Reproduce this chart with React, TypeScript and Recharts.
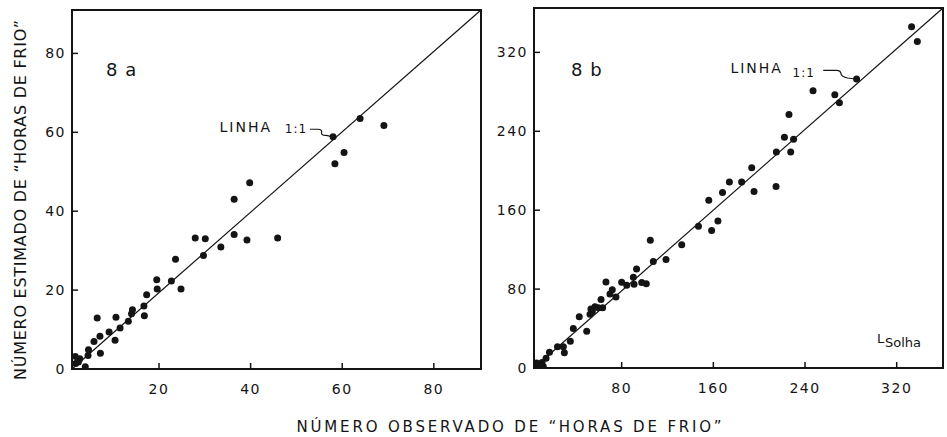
import { ReferenceArea, ReferenceDot, ReferenceLine, Scatter, ScatterChart, XAxis, YAxis } from 'recharts'

// 8a: observado (x) x estimado (y) de "horas de frio"
const obsA = [63.9, 69.1, 58, 58.4, 60.4, 39.8, 36.4, 36.4, 39.2, 45.9, 27.9, 30.1, 33.5, 29.7, 23.6, 22.7, 24.8, 19.5, 19.6, 17.3, 16.7, 16.8, 14.2, 14, 13.3, 11.5, 10.6, 10.4, 9.1, 6.5, 7.1, 5.8, 7.2, 4.6, 4.5, 3.9, 2.7, 1.7, 1.8, 2.4]
const estA = [63.5, 61.7, 58.9, 52, 54.9, 47.2, 43, 34.1, 32.7, 33.2, 33.2, 33, 30.9, 28.8, 27.8, 22.3, 20.3, 22.6, 20.3, 18.8, 16, 13.5, 15, 14, 12.1, 10.4, 13.1, 7.3, 9.4, 12.9, 8.3, 7, 4, 4.9, 3.4, 0.6, 2.6, 3.2, 1.4, 1.8]

// 8b
const obsB = [333, 338, 285, 247, 266, 270, 226, 222, 230, 215, 227.5, 193.5, 174, 184.7, 195.5, 214.7, 168, 156, 164, 158.5, 147, 132.4, 118.7, 105, 107.6, 93, 101.5, 97.5, 90.2, 90.8, 84.4, 80, 66.3, 71.8, 69.8, 75, 62, 56.7, 53.2, 54.4, 59.6, 63.4, 52.4, 43, 37.8, 49.5, 35.2, 29.1, 30, 24, 17, 14, 10.5, 7.3, 5.8, 8.7, 11.6]
const estB = [346, 331, 293, 281, 277, 269, 257, 234, 232, 219, 219, 203, 188.5, 188.5, 179, 184, 178, 170, 149, 139.5, 143.6, 125, 110, 129.4, 108, 100.3, 85.5, 86.8, 92, 85, 84, 87, 87.2, 79.4, 75, 72, 69.5, 62, 59.8, 57.4, 61, 61, 54.5, 52, 40, 37.2, 27, 21.5, 15.5, 21.5, 16, 10, 5.5, 2.5, 5, 0.5, 1.5]

const xTicksA = [20, 40, 60, 80]
const yTicksA = [0, 20, 40, 60, 80]
const xTicksB = [80, 160, 240, 320]
const yTicksB = [0, 80, 160, 240, 320]

const xDomainA: [number, number] = [1, 90.3]
const yDomainA: [number, number] = [0, 91]
const xDomainB: [number, number] = [3.5, 360.4]
const yDomainB: [number, number] = [0, 365]

// ponto para onde aponta a seta "LINHA 1:1"
const pointerA = { x: 58, y: 58.9 }
const pointerB = { x: 285, y: 293 }

const INK = '#141414'
const FONT = '"DejaVu Sans", sans-serif'
const X_GAP = 15
const Y_GAP = 6
const TICK = 6

const zip = (xs: number[], ys: number[]) => xs.map((x, i) => ({ x, y: ys[i] }))

const dataA = zip(obsA, estA)
const dataB = zip(obsB, estB)

const Dot = (p: any) => <circle cx={p.cx} cy={p.cy} r={3.5} fill={INK} />

// rótulos com marca voltada para dentro do quadro
const XTick = (p: any) => (
  <g>
    <line x1={p.x} x2={p.x} y1={p.y - X_GAP} y2={p.y - X_GAP - TICK} stroke={INK} strokeWidth={1.5} />
    <text x={p.x} y={p.y} dy="0.71em" textAnchor="middle" fontSize={14} fontFamily={FONT} letterSpacing={1.5} fill={INK}>
      {p.payload.value}
    </text>
  </g>
)
const YTick = (p: any) => (
  <g>
    <line x1={p.x + Y_GAP} x2={p.x + Y_GAP + TICK} y1={p.y} y2={p.y} stroke={INK} strokeWidth={1.5} />
    <text x={p.x} y={p.y} dy="0.355em" textAnchor="end" fontSize={14} fontFamily={FONT} letterSpacing={1.5} fill={INK}>
      {p.payload.value}
    </text>
  </g>
)

function leader(o: { linha: number; linhaDy: number; one: number; oneDy: number; path: string }) {
  return (p: any) => (
    <g transform={`translate(${p.cx},${p.cy})`}>
      <text x={o.linha} y={o.linhaDy} textAnchor="end" fontSize={14} fontFamily={FONT} letterSpacing={2} fill={INK}>
        LINHA
      </text>
      <text x={o.one} y={o.oneDy} textAnchor="end" fontSize={12} fontFamily={FONT} letterSpacing={1} fill={INK}>
        1:1
      </text>
      <path d={o.path} fill="none" stroke={INK} strokeWidth={1.2} />
    </g>
  )
}

const leaderA = leader({
  linha: -61,
  linhaDy: -5,
  one: -26,
  oneDy: -4,
  path: 'M-23 -7.4 H-15 Q-11 -7.4 -11.5 -4 Q-12 -1 -7 -1.2 L-1 0',
})
const leaderB = leader({
  linha: -73.7,
  linhaDy: -6,
  one: -41.7,
  oneDy: -2.5,
  path: 'M-33.4 -8.6 H-20 Q-16 -8.6 -15.5 -5 Q-15 -2.5 -9 -1 L-1.5 0',
})

function Panel(props: {
  data: { x: number; y: number }[]
  width: number
  margin: { top: number; right: number; bottom: number; left: number }
  yWidth: number
  xDomain: [number, number]
  yDomain: [number, number]
  xTicks: number[]
  yTicks: number[]
  pointer: { x: number; y: number }
  shape: (p: any) => any
}) {
  const { xDomain, yDomain } = props
  return (
    <ScatterChart width={props.width} height={437} margin={props.margin}>
      <XAxis
        type="number"
        dataKey="x"
        domain={xDomain}
        allowDataOverflow
        ticks={props.xTicks}
        height={40}
        tickSize={0}
        tickMargin={X_GAP}
        axisLine={false}
        tickLine={false}
        tick={XTick}
      />
      <YAxis
        type="number"
        dataKey="y"
        domain={yDomain}
        allowDataOverflow
        ticks={props.yTicks}
        width={props.yWidth}
        tickSize={0}
        tickMargin={Y_GAP}
        axisLine={false}
        tickLine={false}
        tick={YTick}
      />
      <ReferenceArea
        x1={xDomain[0]}
        x2={xDomain[1]}
        y1={yDomain[0]}
        y2={yDomain[1]}
        fill="none"
        fillOpacity={0}
        stroke={INK}
        strokeWidth={2}
        ifOverflow="visible"
      />
      <ReferenceLine
        segment={[
          { x: xDomain[0], y: yDomain[0] },
          { x: xDomain[1], y: yDomain[1] },
        ]}
        stroke={INK}
        strokeWidth={1.2}
        ifOverflow="visible"
      />
      <Scatter data={props.data} shape={Dot} isAnimationActive={false} />
      <ReferenceDot x={props.pointer.x} y={props.pointer.y} r={0} shape={props.shape} ifOverflow="visible" />
    </ScatterChart>
  )
}

export default function App() {
  return (
    <div style={{ position: 'absolute', left: 0, top: 0, width: 947, height: 437, background: '#fff', overflow: 'hidden' }}>
      <div style={{ position: 'absolute', left: 0, top: 0 }}>
        <Panel
          data={dataA}
          width={500}
          margin={{ top: 10, right: 19, bottom: 28, left: 12 }}
          yWidth={60}
          xDomain={xDomainA}
          yDomain={yDomainA}
          xTicks={xTicksA}
          yTicks={yTicksA}
          pointer={pointerA}
          shape={leaderA}
        />
      </div>
      <div style={{ position: 'absolute', left: 480, top: 0 }}>
        <Panel
          data={dataB}
          width={467}
          margin={{ top: 8, right: 4, bottom: 29, left: 10 }}
          yWidth={44}
          xDomain={xDomainB}
          yDomain={yDomainB}
          xTicks={xTicksB}
          yTicks={yTicksB}
          pointer={pointerB}
          shape={leaderB}
        />
      </div>
      <svg width={947} height={437} style={{ position: 'absolute', left: 0, top: 0, pointerEvents: 'none' }}>
        <g fill={INK} fontFamily={FONT}>
          <text x={26} y={200} transform="rotate(-90 26 200)" textAnchor="middle" fontSize={16} textLength={360} lengthAdjust="spacing">
            NÚMERO ESTIMADO DE “HORAS DE FRIO”
          </text>
          <text x={509} y={432} textAnchor="middle" fontSize={15} textLength={425} lengthAdjust="spacing">
            NÚMERO OBSERVADO DE “HORAS DE FRIO”
          </text>
          <text x={106} y={76} fontSize={18} letterSpacing={1}>8 a</text>
          <text x={571} y={76} fontSize={18} letterSpacing={1}>8 b</text>
          <text x={877} y={343} fontSize={13}>L</text>
          <text x={885} y={347} fontSize={13}>Solha</text>
        </g>
      </svg>
    </div>
  )
}
